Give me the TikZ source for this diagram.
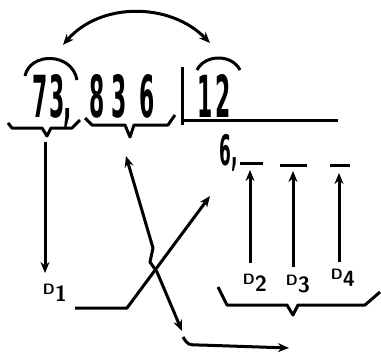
\documentclass[tikz,border=0pt]{standalone}
\usepackage{fontspec}
\newfontfamily\digfont{DejaVu Sans Condensed}
\usetikzlibrary{arrows.meta,calc}

\newcommand{\dname}[1]{{\fontsize{15}{15}\selectfont D}\raisebox{-7pt}{#1}}

\begin{document}
\begin{tikzpicture}[>={Stealth[length=11pt,width=9pt]},x=1pt,y=-1pt,line width=3pt,
    big/.style={font=\fontsize{58}{58}\selectfont\digfont\bfseries,xscale=0.42,inner sep=0pt,anchor=base},
    mid/.style={font=\fontsize{42}{42}\selectfont\digfont\bfseries,xscale=0.45,inner sep=0pt,anchor=base},
    dlab/.style={font=\fontsize{22}{22}\selectfont\sffamily\bfseries,inner sep=0pt}]
  \useasboundingbox (0,0) rectangle (381,354);
  % the division
  \node[big] (n7) at (40,117) {7};
  \node[big] (n3) at (57,117) {3};
  \node[big] (cm) at (68,119) {,};
  \node[big] (n8) at (97,117) {8};
  \node[big] (n3b) at (119,117) {3};
  \node[big] (n6) at (147,117) {6};
  \node[big] (n1) at (205,117) {1};
  \node[big] (n2) at (223,117) {2};
  \draw (182,67) -- (182,125);
  \draw (182,120) -- (338,120);
  % quotient and empty places
  \node[mid] (q) at (229,165) {6,};
  \draw (240,163) -- (263,163);
  \draw (280,165) -- (307,165);
  \draw (330,165) -- (350,165);
  % arcs over 73 and 12
  \draw (25,76) .. controls (30,52) and (72,52) .. (77,80);
  \draw (197,70) .. controls (205,54) and (232,54) .. (240,70);
  \draw[<->] (63,45) .. controls (100,2) and (170,2) .. (210,43);
  % braces
  \draw[line join=round] (8,123) -- (12,128) -- (42,128) -- (47,136) -- (51,128) -- (72,128) -- (80,120);
  \draw[line join=round] (85,118) -- (92,125) -- (125,125) -- (130,137) -- (134,125) -- (168,125) -- (175,115);
  \draw[line join=round] (218,287) -- (227,305) -- (287,305) -- (293,315) -- (298,305) -- (365,305) -- (380,292);
  % labels
  \node[dlab] (d1) at (55,293) {\dname{1}};
  \node[dlab] (d2) at (255,283) {\dname{2}};
  \node[dlab] (d3) at (298,284) {\dname{3}};
  \node[dlab] (d4) at (343,278) {\dname{4}};
  % arrows
  \coordinate (t1) at (45,142);
  \coordinate (b1) at (45,273);
  \draw[->] (t1) -- (b1);
  \coordinate (u2) at (250,170);
  \coordinate (u3) at (293,171);
  \coordinate (u4) at (339,173);
  \draw[->] (250,263) -- (u2);
  \draw[->] (293,267) -- (u3);
  \draw[->] (339,262) -- (u4);
  \coordinate (up) at (126,156);
  \coordinate (dn) at (182,331);
  \draw[<->,line join=round] (up) -- (153,248) -- (150,262) -- (157,272) -- (dn);
  \coordinate (d1e) at (75,308);
  \coordinate (d1t) at (210,196);
  \draw[->,line join=round] (d1e) -- (127,308) -- (d1t);
  \coordinate (cs) at (183,337);
  \coordinate (ce) at (289,348);
  \draw[->] (cs) .. controls (188,345) .. (200,345) -- (ce);
\end{tikzpicture}
\end{document}
